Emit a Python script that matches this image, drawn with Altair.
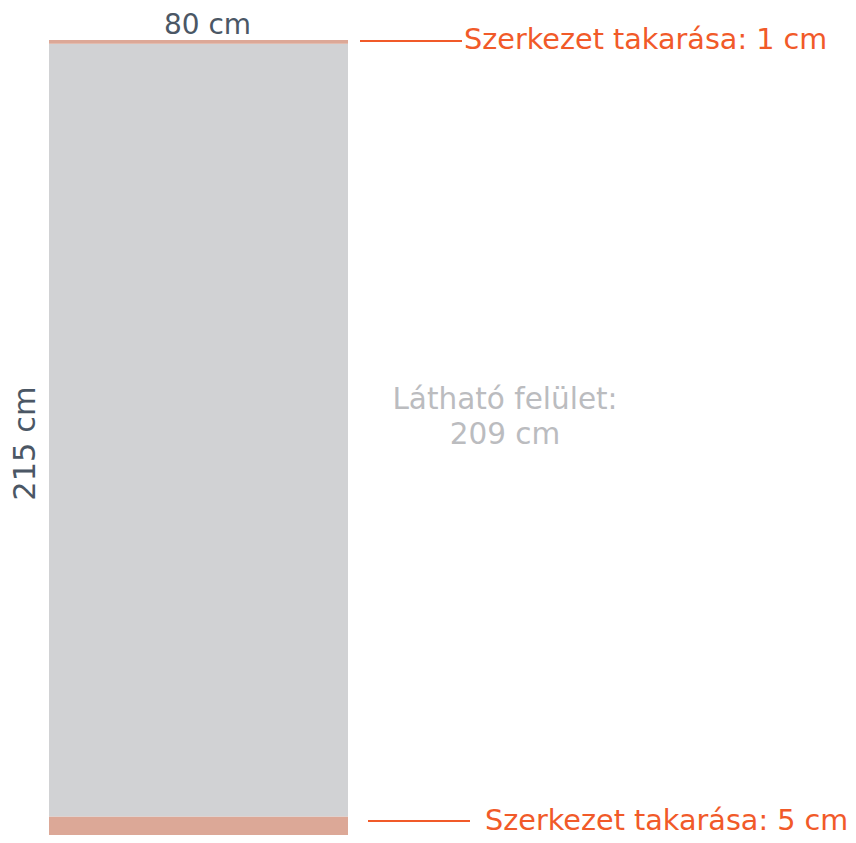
import altair as alt
import pandas as pd
import numpy as np

# --- data (cm) ---
segments = ["Szerkezet takarása: 5 cm", "Látható felület", "Szerkezet takarása: 1 cm"]
heights_cm = [5, 209, 1]
panel_width_cm = 80
total_height_cm = 215
segment_colors = ["#dca897", "#d1d2d4", "#dca897"]

starts = np.concatenate([[0], np.cumsum(heights_cm)[:-1]])
ends = np.cumsum(heights_cm)
bands = pd.DataFrame({
    "segment": segments,
    "y0": starts,
    "y1": ends,
    "x0": [0] * len(segments),
    "x1": [panel_width_cm] * len(segments),
})

W, H = 840, 827
x_scale = alt.Scale(domain=[-10.97, 213.78], nice=False, zero=False)
y_scale = alt.Scale(domain=[0, 223.65], nice=False, zero=False)

rects = alt.Chart(bands).mark_rect().encode(
    x=alt.X("x0:Q", scale=x_scale, axis=None),
    x2="x1:Q",
    y=alt.Y("y0:Q", scale=y_scale, axis=None),
    y2="y1:Q",
    color=alt.Color("segment:N", scale=alt.Scale(domain=segments, range=segment_colors), legend=None),
)

one = pd.DataFrame({"a": [0]})
FONT = "DejaVu Sans"
ORANGE = "#f15a29"
SLATE = "#4b5765"
LIGHT = "#bbbcbf"

def text(label, x, y, color, size, align="left", angle=0, baseline="alphabetic"):
    return alt.Chart(one).mark_text(
        text=label, font=FONT, fontSize=size, color=color, align=align,
        baseline=baseline, angle=angle
    ).encode(x=alt.value(x), y=alt.value(y))

def rule(x1, x2, y):
    return alt.Chart(one).mark_rule(color=ORANGE, strokeWidth=2).encode(
        x=alt.value(x1), x2=alt.value(x2), y=alt.value(y))

layers = [
    rects,
    rule(352, 454, 33),
    rule(360, 462, 813),
    text(f"Szerkezet takarása: {heights_cm[2]} cm", 456, 40.5, ORANGE, 28.7),
    text(f"Szerkezet takarása: {heights_cm[0]} cm", 477, 821.5, ORANGE, 28.7),
    text(f"{panel_width_cm} cm", 199.5, 26, SLATE, 28, align="center"),
    text(f"{total_height_cm} cm", 27, 435.5, SLATE, 30.5, align="center", angle=270),
    text("Látható felület:", 497, 401, LIGHT, 29.5, align="center"),
    text(f"{heights_cm[1]} cm", 497, 436, LIGHT, 29.5, align="center"),
]

chart = alt.layer(*layers).properties(
    width=W, height=H, autosize=alt.AutoSizeParams(type="none"), padding=0
).configure_view(stroke=None)

chart.save("out.html", embed_options={"renderer": "svg", "actions": False})
